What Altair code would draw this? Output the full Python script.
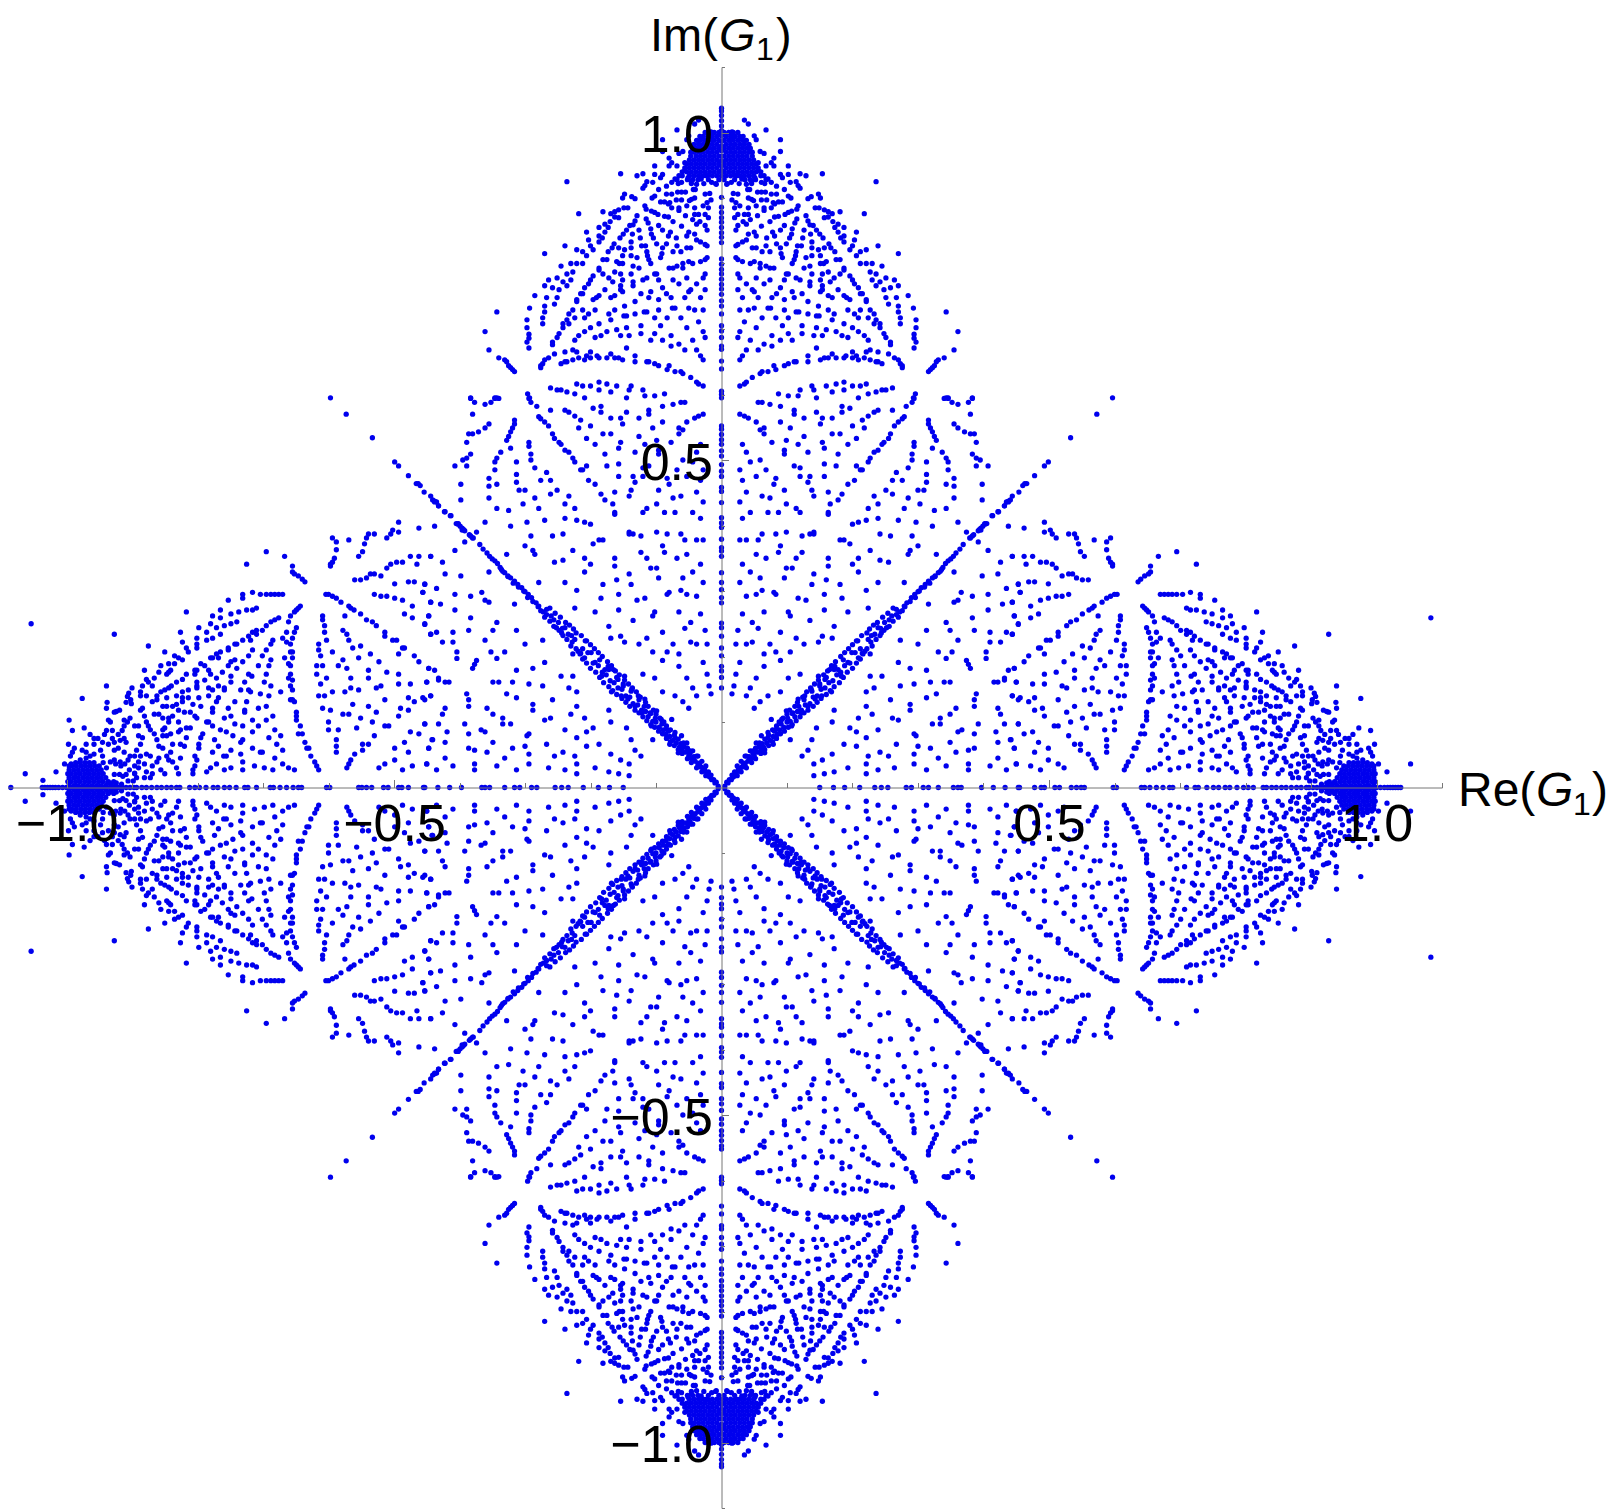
import altair as alt
import pandas as pd

alt.data_transformers.disable_max_rows()

# All values are read by eye from the picture, in thousandths of an axis unit.
# The picture is mirror-symmetric about both axes apart from a few outliers,
# so the upper-right quadrant is read and then reflected when the table is built.

TOP_CAP = [(35,1019),(41,1013),(68,1004),(16,1001),(50,995),(53,989),(90,989),(90,971),(80,961),(59,971),(65,968),(102,949),(154,937),(120,937),(129,934),(236,925),
(56,954),(68,949),(76,954),(80,949),(90,936),(93,931),(102,936),(105,924),(114,925),(117,919),(120,915),(56,942),(65,934),(71,929),(76,924),(84,918),(96,913),(102,903),(106,900),(61,924),(51,931),(46,926),(38,921),(31,929),(23,934),(15,924),(8,921)]

TOP_BLOB_ROWS = {1000:[4,11,18,25],994:[7,14,21,28,33],988:[4,11,18,25,32,38],982:[7,14,21,28,35,42],976:[4,11,18,25,32,39,44],970:[7,14,21,28,35,42,47],964:[4,11,18,25,32,39,47],958:[7,14,21,28,35,42,49],952:[4,11,18,25,32,39,46,53],946:[7,14,21,28,35,42,49,56],940:[4,11,18,25,32,39,46,53,60],934:[7,14,21,28,35,42,49,60],928:[4,20,36,44,52,68],922:[9,27,46,66]}

TOP_LOBE_UPPER = [(18,907),(25,906),(40,913),(43,913),(55,909),(61,909),(67,909),(76,906),(84,906),(132,899),(137,902),(148,906),(151,900),(41,900),(46,898),(49,896),(61,897),(69,897),(79,893),(87,894),(93,894),(16,897),(22,893),(28,888),(41,885),(53,888),(65,885),(65,881),(76,885),(81,891),(20,885),(117,888),(115,883),(107,880),(102,878),(97,875),(87,872),(81,871),(74,864),(61,857),(55,873),(41,875),(35,875),(25,875),(20,870),(33,864),(38,860),(44,867),(25,858),(22,851),
(143,885),(149,885),(157,882),(163,879),(169,876),(181,879),(218,876),(163,871),(157,870),(129,873),(132,865),(135,859),(140,858),(145,851),(150,845),(155,839),(115,868),(112,862),(108,853),(96,858),(90,851),(78,848),(81,842),(50,848),(53,842),(41,845),(69,839),(107,845),(104,839),(136,845),(126,851),(124,839),(170,864),(173,855),(178,860),(187,855),(178,848),(187,842),(182,839),(206,848),(203,836),(200,827),(196,821),(187,833),(221,821),(212,818),(206,812),(239,827),(270,815),
(164,830),(167,824),(173,818),(157,824),(148,821),(138,824),(138,833),(122,827),(116,827),(99,830),(84,830),(90,824),(68,827),(53,824),(47,824),(62,818),(74,818),(38,836),(32,833),(25,829),(22,827),(91,815),(93,809),(114,818),(113,812),(111,806),(108,800),(129,809),(138,812),(151,812),(175,806),(181,806),(160,803),(156,800),(151,800),(135,796),(126,793),(50,803),(44,800),(59,800),(59,793),(68,796),(74,793),(80,793),(22,809),(25,806),(32,803),
(212,800),(221,800),(230,800),(245,796),(187,793),(187,790),(227,787),(236,784),(251,778),(264,775),(270,766),(242,772),(230,775),(236,766),(258,763),(248,760),(285,751),(251,748),(267,748),(255,738),(270,735),(270,726),(273,717),(273,708),(293,732),(297,714),(297,702),(294,692),(294,686),(297,680),(294,671),(343,726),(361,696),(355,668),
(196,781),(200,775),(203,769),(209,763),(212,754),(215,754),(221,745),(221,742),(187,751),(191,748),(196,745),(178,760),(163,751),(169,748),(154,766),(154,760),(151,757),(166,772),(172,778),(181,784),(163,787),(154,784),(151,775),(138,784),(135,772),(135,766),(120,775),(114,778),(102,784),(99,784),(96,775),(74,775),(65,769),(53,778),(38,769),(25,784),(28,778),(25,760),(47,760),(50,757),(32,748),(56,748),(77,748),(84,754),(90,763),(96,745),(108,757),(111,748),(123,754),(132,742),
(28,729),(41,729),(50,732),(71,732),(75,732),(96,729),(114,726),(118,726),(148,735),(163,729),(172,723),(193,729),(212,729),(227,729),(233,723),(203,723),(209,717),(224,717),(236,714),(242,708),(233,708),(242,702),(132,723),(145,720),(149,720),(169,714),(187,708),(200,702),(209,696),(218,690),(224,683),(248,693),(251,687),(258,680),(258,676),
(35,711),(62,717),(83,717),(102,717),(93,705),(53,702),(123,705),(123,693),(145,702),(160,699),(175,696),(184,690),(193,687),(28,696),(25,687),(44,683),(77,690),(90,683),(102,693),(108,683),(141,690),(154,690),
(65,677),(77,674),(56,668),(38,668),(32,659),(28,653),(145,671),
(227,668),(221,665),(239,665),(200,665),(190,659),(187,656),(169,662),(175,656),(157,656),(151,653),(163,656),(200,656),(206,659),(209,653),(218,656),(227,653),(236,650),(239,650),(245,647),(255,662),(264,656),(270,653),(273,647),(276,644),(276,641),
(132,659),(132,650),(114,650),(111,650),(102,647),(96,644),(80,644),(83,638),(71,635),(62,635),(59,632),(47,626),(38,619),(35,616),(28,613),
(316,635),(319,638),(322,641),(325,644),(328,650),(331,653),(340,656),
(175,616),(187,619),(221,616),(212,613),(200,613),(160,613),(138,613),(141,607),(120,607),(117,598),(102,598),(87,601),(169,604),(187,607),(145,595),(209,595),(224,601),(236,604),(245,607),(251,607),(261,610),(296,601),(293,595),(343,595),(346,595),(383,595)]

TOP_LOBE_LOWER = [(56,588),(62,588),(74,585),(90,582),(111,576),(111,570),(145,573),(184,582),(184,573),(196,579),(239,576),(233,573),(261,576),(224,567),(215,561),(282,582),(291,588),(294,594),(340,594),(346,594),(352,588),(361,585),(377,588),(383,594),(380,570),
(28,570),(35,567),(41,564),(53,558),(90,558),(65,549),(59,546),(65,540),(105,549),(126,564),(154,564),(151,555),(169,564),(200,552),(218,549),(181,540),(169,540),(126,536),(206,533),(77,527),(99,530),(117,524),(154,527),(193,524),(157,518),(96,515),(96,509),(132,512),(178,509),(32,524),(38,512),
(279,566),(276,563),(270,558),(264,552),(258,540),(255,533),(248,527),(245,524),(239,515),(233,512),(227,503),(224,497),(316,561),(316,555),(319,549),(322,543),(325,536),(328,530),(355,555),(361,549),(371,543),(380,540),(386,540),(389,527),(294,527),(294,521),(322,518),(337,512),(343,503),(346,497),(383,509),(389,503),(395,500),(389,491),(407,491),(291,509),(291,500),(313,497),(346,485),(285,488),(267,481),
(44,497),(59,500),(28,485),(68,485),(111,491),(120,488),(157,494),(175,491),(206,491),(212,485),(215,485),(53,475),(83,472),(120,475),(135,475),(157,475),(32,469),(80,463),(132,466),(203,469),(193,463),(261,469),(276,469),(313,478),(313,466),(355,472),(355,460),(343,463),(398,463),
(38,451),(96,454),(138,454),(163,451),(184,448),(141,445),(62,445),(74,442),(178,439),(233,445),(251,454),(261,448),(300,454),(309,454),(285,442),(355,442),(398,439),
(28,436),(99,433),(166,433),(114,426),(120,420),(44,420),(71,420),(87,420),(163,420),(163,417),(224,426),(239,433),(279,426),(303,433),(325,423),(343,426),(32,411),(239,411),(221,408),(209,405),(200,402),(270,408),(297,405),(322,399),(361,405),
(62,387),(28,378),(38,378),(56,378),(83,387),(99,390),(123,384),(135,387),(141,390),(141,387),(181,378),(187,378),(196,372),(242,387),(258,384),(291,384),(300,369),(227,362),(288,362),(285,356),(328,356),(374,390),(392,375),(407,362),(438,399),(444,353),
(53,356),(90,369),(87,359),(68,350),(114,350),(123,359),(163,350),(163,338),(209,350),(200,341),(242,347),(255,344),(426,344),(422,326),(398,323),(355,329),
(32,341),(44,329),(59,320),(99,335),(108,335),(96,320),(141,326),(209,329),(160,317),(138,310),(181,310),(239,313),(279,313),(28,313),(435,304),(453,310),(456,298),(366,298),(407,295),
(62,301),(53,295),(38,292),(80,298),(83,295),(117,289),(129,286),(157,295),(184,289),(221,301),(383,292),(361,286),(355,283),(444,283),(429,280),(407,271),(316,280),(224,274),
(157,271),(193,268),(102,268),(105,262),(65,268),(32,265),(135,255),(447,262),(383,259),(343,252),(47,252),(453,249),
(25,240),(56,243),(90,237),(172,246),(349,240),(313,240),(386,240),(410,237),(435,237),(444,234),(114,228),(154,231),(169,228),(273,225),(361,225),(410,222),(426,222),(148,222),(126,219),(22,219),(38,219),(47,222),(74,219),(300,219),(65,204),(83,207),(105,207),(227,204),(331,207),(352,207),(404,207),(404,197),(343,197),(374,194),(377,188),(380,182),(28,191),(90,194),(270,191),(65,185),(288,182),(313,179),(438,179),(447,182),(22,173),(53,167),(102,167),(120,173),(227,170),(245,170),(432,167)]

INNER_FIELD = [(19,155),(44,152),(16,143),(38,140),(90,146),(71,140),(59,131),(50,121),(172,118),(169,100),(209,106),(145,91),(138,73),(105,73),(132,57),(123,48),(141,36),(154,42),(141,18),(157,21),(172,24),(169,51),(193,30),(187,66),(206,63),(196,91),(206,85),(221,76),(224,48),(221,36),(221,21),(242,54),(239,27),(255,48),(264,30),(267,66),(261,106),(270,103),(239,88),(230,112),(221,124),(221,146),(233,152),(258,134),(273,155),(294,158),(319,161),(328,143),(313,137),(288,127),(288,118),(340,161),(349,161),(358,121),(349,112),(334,106),(322,97),(334,97),(294,82),(297,79),(300,63),(319,60),(294,51),(294,36),(331,45),(343,33),(313,27),(358,54),(361,85),(367,88),(349,69),(377,57),(386,60),(386,82),(392,97),(377,36),(377,27),(410,33),(422,45),(435,27),(450,36),(447,60),(441,73),(422,69),(419,85),(432,97),(453,97),(426,112),(422,121),(386,124),(386,134),(389,143),(444,140),(453,134),(450,161),(432,164),(422,161),(416,161)]

RIGHT_LOBE_INNER = [(493,405),(462,396),(493,390),(502,393),(505,387),(511,381),(530,387),(539,387),(542,381),(545,372),(548,360),(554,353),(569,378),(588,375),(594,381),(588,363),(591,350),(594,344),(597,341),(597,338),(444,353),(462,353),(475,353),(465,341),(487,344),(496,344),(505,341),(511,335),(520,323),(530,326),(536,326),(542,320),(551,317),(560,317),(453,311),(469,314),(478,314),(499,311),(456,298),(444,283),(472,277),(487,286),(499,289),(511,292),(520,292),(530,295),(581,283),(588,289),(594,292),(600,295),(604,295),(561,271),(566,274),(569,277),(551,265),(542,256),(533,253),(527,247),(514,237),(514,231),(502,225),(496,225),(487,213),(484,213),(493,204),(469,201),(462,192),(447,182),(447,262),(472,259),(484,265),(453,250),(444,234),(575,262),
(609,262),(609,256),(606,247),(606,237),(578,240),(572,234),(569,225),(603,225),(615,219),(615,210),(612,201),(563,213),(551,216),(554,198),(536,204),(523,192),(578,195),(585,186),(572,182),(594,207),(609,186),(618,186),(618,173),(539,179),(539,167),(511,176),(493,173),(493,158),(475,158),(450,161),(566,167),(603,167),(612,158),(520,155),(527,152),(566,152),(554,149),(575,146),(594,146),(606,140),(615,140),(444,140),(456,137),(478,137),(469,131),(514,134),(563,127),(539,124),(478,118),(490,121),(493,109),(527,115),(569,112),(578,112),(597,118),(609,121),(533,100),(551,106),(600,100),(453,97),(508,94),(514,94),(557,91),(585,88),(600,88),(462,82),(475,85),(530,79),(588,73),(442,73),(484,69),(539,66),(548,66),(588,63),(588,54),(447,60),(499,60),(548,57),(478,54),(560,51),(566,42),(569,36),(572,30),(499,42),(450,36),(472,33),(514,36),(523,30),(487,27)]

RIGHT_LOBE_OUTER = [(636,314),(640,318),(646,323),(652,326),(655,329),(655,338),(667,353),(695,360),(725,341),
(670,295),(676,295),(682,295),(688,295),(695,295),(704,295),(716,298),(731,295),(731,289),(753,286),(817,268),(710,274),(716,271),(725,271),(737,268),(749,265),(765,271),(765,259),(777,262),(740,253),(749,250),(759,247),(771,244),(780,250),(786,237),(798,244),(826,237),(765,234),(777,228),(786,225),(801,228),(801,219),(801,213),(823,222),(817,213),(814,207),(875,216),(850,207),
(643,277),(646,274),(649,271),(652,268),(658,262),(661,253),(649,244),(652,237),(655,228),(670,228),(664,237),(664,222),(658,219),(676,259),(682,256),(688,253),(695,247),(701,240),(710,240),(710,234),(716,237),(722,231),(719,225),(731,225),(740,219),(743,219),(753,213),(753,210),(765,207),(771,204),(768,198),(777,198),(780,198),(685,225),(688,219),(695,210),(701,201),(716,210),(731,192),(722,201),(743,195),(749,192),(753,186),(740,182),(762,176),(655,207),(658,207),(655,198),(667,198),(688,195),(707,186),(691,186),(695,173),(661,189),(658,186),(717,170),(722,173),(728,161),(749,170),(749,161),(771,167),(780,173),(783,179),(789,186),(795,189),(789,164),(801,179),(804,179),(804,173),(823,195),(829,198),(835,201),(835,189),(844,189),(856,186),(841,179),(844,176),(847,173),(859,176),(881,179),(817,173),(823,165),(832,161),(866,167),(878,165),(875,161),(869,155),(884,155),(887,146),(887,140),(840,155),(844,152),(850,149),(856,146),(862,140),(862,134),(869,131),(878,140),
(658,173),(661,167),(655,164),(658,155),(655,149),(673,146),(691,140),(688,155),(698,161),(704,143),(719,146),(722,149),(734,149),(759,152),(759,149),(768,155),(777,149),(783,152),(768,137),(771,131),(783,140),(798,137),(801,161),(801,155),(801,152),(814,149),(823,146),(814,137),(823,137),(823,131),(832,140),(847,137),(655,134),(652,131),(658,134),(725,131),(743,131),(695,124),(707,121),(728,118),(728,115),(753,121),(777,121),(777,115),(795,124),(807,127),(838,124),(847,124),(853,124),(829,118),(820,115),(811,115),(804,109),(801,106),(685,109),(695,103),(649,115),(649,109),(649,103),(716,103),(749,109),(759,106),(707,94),(731,94),(743,97),(783,100),(786,100),(777,94),(765,88),(756,85),(746,79),(716,85),(682,88),(643,94),(640,82),(646,82),(673,79),(691,76),(679,66),(670,57),(636,69),(633,60),(630,60),(627,48),(621,39),(618,33),(615,27),(701,54),(704,54),(716,60),(731,73),(734,69),(749,57),(768,63),(774,73),(734,51),(777,54),(756,48),(760,48),(682,45),(731,39),(731,27),(670,36),(661,30),(652,27),(685,27),(698,30),(713,33),(749,30),(759,27),(771,36),(780,30),(786,24),
(832,127),(838,109),(844,106),(853,106),(859,112),(866,112),(884,121),(887,118),(881,109),(878,100),(875,94),(872,88),(866,82),(862,73),(853,79),(847,79),(841,82),(829,100),(844,100),(850,91),(853,88),(811,91),(817,91),(826,88),(829,85),(792,82),(795,76),(798,66),(798,60),(817,76),(820,63),(826,66),(838,66),(804,48),(801,42),(804,33),(807,27),(807,21),(832,30),(829,21),(826,45),(838,39),(844,42),(847,48),(841,54),(853,60),(859,63),(859,45),(862,39),(869,33),(872,48),(878,51),(881,36),(869,21),(872,15),(881,15),(878,24),(850,21),(856,27),(890,94),(896,94),(884,76),(890,79),(887,66),(893,57),(887,48),(896,48),(890,39),(896,33),(890,30),(896,21),(893,15)]

RIGHT_CAP = [(927,234),(939,155),(976,136),(900,152),(905,144),(907,139),(902,134),(901,128),(909,130),(938,130),(939,121),(919,118),(924,116),(927,115),(903,106),(907,100),(912,103),(936,103),(933,100),(912,94),(915,87),(921,81),(939,87),(942,81),(930,87),(973,91),(991,87),(964,81),(952,75),(958,75),(945,69),(930,75),(927,69),(918,72),(912,75),(909,69),(970,66),(997,66),(958,66),(936,66),(988,60),(991,54),(994,48),(976,57),(970,54),(948,57),(927,57),(921,60),(912,54),(903,48),(945,48),(958,51),(964,48),(970,45),(979,42),(1003,36),(1016,24),(993,36),(996,33),(933,39),(927,42),(918,39),(906,42),(911,36),(917,33),(925,36),(904,27),(909,20),(919,20),(927,20),(939,30),(944,38),(896,22),(898,10),(906,10),(914,17),(916,5),(924,7),(932,5),(937,7)]

RIGHT_BLOB_ROWS = {3:[925,932,940,947,954,961,968,975,982,989,996],9:[928,936,944,951,958,965,972,979,986,993,998],15:[940,947,954,961,968,975,982,989,996],21:[944,951,958,965,972,979,986,993,998],27:[947,954,961,968,975,982,989,996],33:[950,957,964,971,978,985,992],38:[958,965,972,979,986]}

# Points off the mirror pattern: each is given with its own sign of Re; Im is mirrored.
RE_SIDE_OUTLIERS = [(1083,259),(1052,36),(-1054,250),(-1063,21),(-1036,11),(-996,103)]
RE_AXIS_LEFT_TIP = [-1085]

DIAGONAL = [(597,595),(573,570),(533,534),(499,497),(493,491),(478,476),(466,464),(463,464),(460,461),(454,451),(444,445),(441,439),(438,436),(435,436),(432,430),(423,421),(414,415),(405,403),(402,403),(399,399),(396,396),(396,393),(383,384),(380,381),
(438,437),(432,430),(422,421),(413,415),(402,402),(394,394),(392,392),(379,381),(369,371),(364,364),(354,353),(346,346),(338,336),(331,328),(326,323),(316,315),(305,305),(295,295),(290,290),(279,277),(267,272),(267,264),(260,262),(249,252),(252,244),(239,244),(244,236),(234,234),(224,226),(206,224),(199,206),(219,208),(209,198),(204,206),(193,191),(178,180),(183,170),(173,185),(165,180),(158,165),(148,170),(150,155),(137,150),(168,146),(153,140),(143,135),(127,140),(132,124),(117,135),(122,114),(109,114),(99,117),(107,94),(92,104),(76,104),(84,89),(71,84),(61,79),(79,66),(53,68),(66,53),(48,56),(43,46),(36,48),(33,33),(25,25),(20,18),(15,12),(10,7),(5,2),
(8,8),(12,12),(18,16),(16,19),(22,22),(28,26),(26,29),(31,31),(36,34),(34,37),(40,40),(45,43),(42,47),(50,48),(48,52),(54,54),(60,57),(57,62),(64,62),(62,67),(69,68),(74,72),(71,76),(79,78),(85,81),(81,86),(89,88),(95,92),(91,97),(100,100),(105,101),(101,106),(112,108),(108,113),(116,116),(122,118),(118,124),(128,126),(135,128),(126,134),(140,138),(146,140),(138,147),(152,150),(158,152),(150,158),(164,160),(170,163),(160,168),(176,172),(182,176),(172,180),(188,186),(196,190),(186,195),(212,212),(215,205),(228,222),(229,232),(243,243),(256,256),(272,268),(283,282),(300,299),(311,310),(322,320),(336,333),(342,342),(350,349),(358,358),(385,386),
(60,52),(52,60),(66,58),(58,68),(72,64),(66,74),(78,70),(72,80),(84,75),(78,88),(90,82),(84,94),(96,86),(88,100),(102,92),(94,106),(108,96),(100,112),(114,102),(104,118),(120,108),(112,124),(126,114),(116,130),(132,118),(124,138),(140,124),(130,146),(146,130),(136,152),(152,136),(142,158),(160,142),(148,164),(166,148),(156,172),(172,154),(162,178),(180,160),(168,186),(186,168),(174,192),(192,176),(182,200),(200,182),(188,206),(206,190),(194,212),(212,196),(200,218),(216,204),(208,224),(222,212),(214,232),(230,216),(222,236),(236,226),(226,242),(242,232),(232,248),(248,240),(238,252),(256,246),(246,260),(262,254),(254,266),(270,260),(262,274),(276,270),(280,276),(288,284),(296,290),(302,300),(310,306),(318,312),(326,322),(334,330),(20,24),(24,18),(30,24),(24,33),(38,30),(30,40),(46,38),(38,48),(52,44),(44,56)]

ON_REAL_AXIS = [150,171,188,211,234,244,254,282,290,308,316,331,354,361,366,397,415,433,453,455,478,488,493,509,516,534,542,549,554,598,603,641,646,654,664,674,684,689,710,723,728,741,751,759,769,776,787,797,804,812,827,832,840,847,855,862,870,878,885,893,897,903,909,915,921,927,933,940,946,952,958,964,970,976,982,988,994,1000,1006,1012,1017,1021,1025,1029,1033,1037]
ON_IMAG_AXIS = [605,600,595,552,547,539,531,524,514,506,493,483,475,458,452,435,412,404,397,379,366,361,353,328,313,302,290,282,251,244,231,213,201,185,178,168,152,639,651,669,674,687,697,705,723,735,743,753,761,768,776,784,791,799,807,832,840,847,855,863,870,878,886,901,934,942,949,957,964,972,980,987,995,1003,1010,1018,1026,1033,1037]

TICK_VALUES = [-1.1,-1.0,-0.9,-0.8,-0.7,-0.6,-0.5,-0.4,-0.3,-0.2,-0.1,0.1,0.2,0.3,0.4,0.5,0.6,0.7,0.8,0.9,1.0,1.1]
LABEL_VALUES = [-1.0,-0.5,0.5,1.0]

quadrant = (TOP_CAP + TOP_LOBE_UPPER + TOP_LOBE_LOWER + INNER_FIELD + RIGHT_LOBE_INNER
            + RIGHT_LOBE_OUTER + RIGHT_CAP + DIAGONAL)
quadrant += [(x, y) for y, xs in TOP_BLOB_ROWS.items() for x in xs]
quadrant += [(x, y) for y, xs in RIGHT_BLOB_ROWS.items() for x in xs]

rows = []
for x, y in quadrant:
    for sx in (1, -1):
        for sy in (1, -1):
            rows.append((sx * x / 1000, sy * y / 1000))
for x, y in RE_SIDE_OUTLIERS:
    rows += [(x / 1000, y / 1000), (x / 1000, -y / 1000)]
for x in ON_REAL_AXIS:
    rows += [(x / 1000, 0.0), (-x / 1000, 0.0)]
for x in RE_AXIS_LEFT_TIP:
    rows.append((x / 1000, 0.0))
for y in ON_IMAG_AXIS:
    rows += [(0.0, y / 1000), (0.0, -y / 1000)]
points = pd.DataFrame(rows, columns=["re", "im"])
ticks = pd.DataFrame({"v": TICK_VALUES})

SIDE = 1441
MID = SIDE / 2
LEFT, TOP = 1, 67
AXIS = "#777777"
FONT = "Liberation Sans"
sx_ = alt.Scale(domain=[-1.1, 1.1], nice=False, zero=False)
sy_ = alt.Scale(domain=[-1.1, 1.1], nice=False, zero=False)

label_x = alt.Axis(orient="bottom", offset=-MID, values=LABEL_VALUES, format=".1f", title=None, grid=False,
                   domain=False, ticks=False, labelFontSize=52, labelFont=FONT, labelColor="black",
                   labelPadding=12, labelOverlap=False, labelFlush=False, zindex=1)
label_y = alt.Axis(orient="left", offset=-MID, values=LABEL_VALUES, format=".1f", title=None, grid=False,
                   domain=False, ticks=False, labelFontSize=52, labelFont=FONT, labelColor="black",
                   labelPadding=9, labelOffset=3, labelOverlap=False, labelFlush=False, zindex=1)
major = "abs(abs(datum.value)-0.5)<0.01 || abs(abs(datum.value)-1)<0.01"
tick_x = alt.Axis(orient="top", offset=-MID, values=TICK_VALUES, labels=False, title=None, grid=False,
                  domainColor=AXIS, tickColor=AXIS, domainWidth=1, tickWidth=1,
                  tickSize=alt.expr(f"{major} ? 8 : 5"), zindex=1)
tick_y = alt.Axis(orient="right", offset=-MID, values=TICK_VALUES, labels=False, title=None, grid=False,
                  domainColor=AXIS, tickColor=AXIS, domainWidth=1, tickWidth=1,
                  tickSize=alt.expr(f"{major} ? 7 : 3"), zindex=1)

dots = alt.Chart(points).mark_circle(size=28, opacity=1, color="#0000EE").encode(
    x=alt.X("re:Q", scale=sx_, axis=label_x),
    y=alt.Y("im:Q", scale=sy_, axis=label_y),
)
tick_layer = alt.Chart(ticks).mark_circle(opacity=0).encode(
    x=alt.X("v:Q", scale=sx_, axis=tick_x),
    y=alt.Y("v:Q", scale=sy_, axis=tick_y),
)


def piece(text, px, py, size=48, style="normal"):
    return alt.Chart(pd.DataFrame({"t": [text]})).mark_text(
        font=FONT, fontSize=size, fontStyle=style, align="left", baseline="alphabetic", color="black"
    ).encode(x=alt.value(px - LEFT), y=alt.value(py - TOP), text="t:N")


titles = [
    piece("Im(", 650, 51, size=47), piece("G", 719, 51, size=47, style="italic"), piece("1", 756, 60, size=32), piece(")", 776, 51, size=47),
    piece("Re(", 1458, 806), piece("G", 1536, 806, style="italic"), piece("1", 1573, 815, size=32), piece(")", 1592, 806),
]

chart = alt.layer(dots, tick_layer, *titles).resolve_axis(x="independent", y="independent").properties(
    width=SIDE, height=SIDE,
    autosize=alt.AutoSizeParams(type="none"),
    padding={"left": LEFT - 8, "top": TOP - 8, "right": 166, "bottom": 2},
).configure_view(stroke=None)

chart.save("out.html", embed_options={"renderer": "svg", "actions": False})
